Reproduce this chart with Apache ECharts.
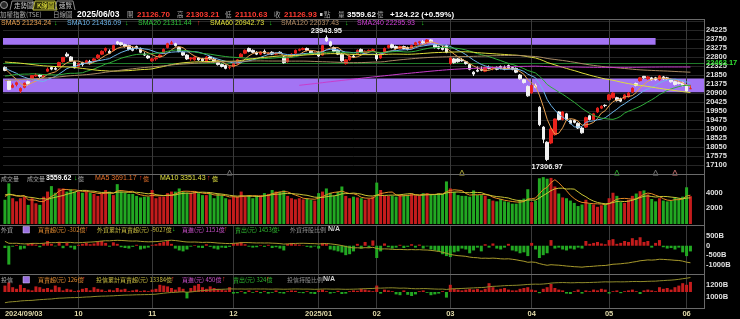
<!DOCTYPE html>
<html><head><meta charset="utf-8">
<script src="https://cdn.jsdelivr.net/npm/echarts@6/dist/echarts.min.js"></script>
<style>html,body{margin:0;padding:0;background:#000;}#c{width:740px;height:319px;}</style>
</head><body><div id="c"></div>
<script>
// ---------------- DATA ----------------
const tradingDays = {
 '2024/09': [3,4,5,6,9,10,11,12,13,16,18,19,20,23,24,25,26,27,30],
 '2024/10': [1,4,7,8,9,11,14,15,16,17,18,21,22,23,24,25,28,29,30],
 '2024/11': [1,4,5,6,7,8,11,12,13,14,15,18,19,20,21,22,25,26,27,28,29],
 '2024/12': [2,3,4,5,6,9,10,11,12,13,16,17,18,19,20,23,24,25,26,27,30,31],
 '2025/01': [2,3,6,7,8,9,10,13,14,15,16,17,20,21,22],
 '2025/02': [3,4,5,6,7,10,11,12,13,14,17,18,19,20,21,24,25,26,27],
 '2025/03': [3,4,5,6,7,10,11,12,13,14,17,18,19,20,21,24,25,26,27,28,31],
 '2025/04': [1,2,7,8,9,10,11,14,15,16,17,18,21,22,23,24,25,28,29,30],
 '2025/05': [2,5,6,7,8,9,12,13,14,15,16,19,20,21,22,23,26,27,28,29],
 '2025/06': [2,3]
};
const monthTicks = [['2024/09/03','2024/09/03'],['2024/10/01','10'],['2024/11/01','11'],['2024/12/02','12'],['2025/01/02','2025/01'],['2025/02/03','02'],['2025/03/03','03'],['2025/04/01','04'],['2025/05/02','05'],['2025/06/02','06']];

const open = [
22250,21550,21200,21350,21000,21200,21500,21600,21800,21850,21750,22050,22250,22200,22300,22550,22950,22800,22550,
22300,22500,22500,22550,22600,22750,22950,23150,23100,23150,23600,23550,23450,23400,23250,23350,23250,22950,22850,
22600,22700,22800,23000,23300,23500,23500,23300,23050,22900,22700,22650,22750,22700,22550,22800,22700,22500,22400,22350,22250,
22300,22450,22800,23000,23250,23150,23050,22950,23100,22950,23050,22950,23050,22800,22550,22800,23000,23150,23200,23250,23100,23000,
23050,22900,23820,23600,23300,23150,22950,22450,22650,22850,22950,23200,23000,23100,23150,
22950,22750,23000,23300,23450,23350,23250,23350,23300,23250,23450,23550,23600,23550,23700,23450,23350,23300,23400,
22450,22700,22700,22650,22550,22400,22000,22100,22150,22050,22250,22200,22250,22300,22250,22350,22250,22200,21850,21600,21250,
20900,21300,20150,19100,18300,18260,18700,19900,19500,19800,19450,19450,19300,19050,19100,19700,19500,19900,20100,20250,
20550,20650,20650,20600,20600,20700,20950,21400,21550,21780,21650,21700,21700,21600,21750,21700,21600,21500,21450,21450,
21300,21126.70];
const high = [
22300,21600,21400,21500,21200,21450,21550,21850,21950,21900,21900,22250,22300,22300,22550,22800,23050,22850,22600,
22500,22550,22650,22650,22750,22950,23150,23300,23200,23450,23650,23600,23500,23450,23350,23400,23300,23050,22900,
22750,22800,22950,23250,23550,23650,23550,23350,23100,22950,22800,22850,22800,22750,22850,22850,22750,22550,22450,22400,22350,
22500,22700,23000,23200,23300,23200,23100,23100,23200,23050,23100,23050,23100,22850,22800,23000,23200,23250,23300,23300,23150,23100,
23100,23450,23943.95,23650,23350,23200,23000,22700,22900,22950,23200,23250,23150,23200,23250,
23000,23000,23300,23450,23500,23400,23400,23400,23350,23450,23600,23650,23700,23750,23750,23500,23400,23400,23450,
22850,22750,22750,22750,22600,22450,22050,22300,22300,22300,22350,22300,22300,22350,22350,22400,22300,22250,21900,21650,21300,
21350,21400,20200,19150,18350,19100,19550,19950,19950,19850,19500,19500,19350,19100,19650,19750,19850,20150,20250,20300,
20850,20950,20700,20650,20850,20950,21200,21450,21750,21800,21800,21750,21750,21850,21800,21750,21650,21550,21550,21500,
21350,21303.21];
const low = [
22050,21050,21150,21250,20900,21150,21300,21580,21750,21700,21700,22000,22100,22100,22250,22500,22800,22550,22200,
22250,22300,22450,22400,22550,22700,22900,23050,22950,23100,23450,23400,23300,23150,23100,23200,23000,22850,22700,
22550,22600,22750,22950,23250,23450,23350,23050,22850,22650,22600,22600,22600,22550,22500,22650,22500,22350,22250,22150,22150,
22250,22400,22750,22950,23050,23000,22900,22900,22950,22900,22900,22900,22950,22450,22500,22750,22950,23100,23150,23100,22950,22950,
22800,22880,23600,23350,23050,22900,22550,22400,22600,22750,22900,23000,22950,23050,23100,
22600,22700,22980,23250,23250,23200,23200,23200,23150,23200,23400,23450,23500,23500,23550,23250,23200,23150,23000,
22400,22450,22500,22550,22400,22100,21800,22000,22050,22000,22150,22100,22100,22150,22100,22150,22100,21950,21600,21400,20700,
20850,21150,19150,18250,17306.97,18200,18650,19450,19450,19450,19250,19300,19000,18750,19050,19450,19450,19850,20050,20150,
20500,20600,20450,20420,20550,20650,20900,21250,21500,21650,21600,21550,21550,21550,21600,21600,21450,21300,21350,21250,
20950,21110.63];
const close = [
22090,21090,21300,21440,21140,21420,21390,21820,21850,21780,21810,22160,22160,22150,22510,22780,22850,22590,22225,
22470,22400,22600,22500,22700,22900,23100,23250,23000,23400,23500,23450,23350,23200,23150,23250,23050,22900,22750,
22700,22750,22900,23200,23500,23550,23400,23100,22900,22700,22750,22800,22650,22600,22800,22700,22550,22400,22300,22200,22260,
22450,22650,22950,23150,23100,23050,22950,23050,23000,23000,22950,23000,23000,22500,22750,22950,23150,23200,23250,23150,23000,23030,
22850,23400,23650,23400,23100,22950,22600,22650,22850,22800,23150,23050,23100,23150,23200,
22700,22950,23250,23400,23300,23250,23350,23250,23200,23400,23550,23600,23550,23700,23600,23300,23250,23200,23050,
22750,22500,22550,22600,22450,22150,21900,22050,22100,22250,22200,22250,22150,22200,22150,22200,22150,22000,21650,21450,20750,
21300,21200,19230,18460,17390,19000,19530,19500,19900,19500,19300,19350,19050,18800,19600,19500,19800,20100,20200,20235,
20800,20900,20500,20470,20800,20900,21150,21300,21700,21700,21750,21600,21600,21800,21650,21650,21490,21350,21400,21290,
21002.71,21126.93];
// closes loaded before the first visible day (Jan 2024 - Sep 2 2024), used by the moving averages
const priorCloses = [
17850,17600,17500,17480,17400,17500,17520,17550,17500,17450,17300,17250,17300,17350,17550,17650,17800,17700,17750,17800,17900,18000,
18050,18100,18150,18100,18600,18650,18700,18800,18850,18900,18880,18900,18950,18950,18966,
19050,19200,19400,19650,19800,19950,19900,19700,19900,20000,19900,19850,20150,20300,20250,20150,20100,20200,20150,20250,20300,
20200,20300,20500,20700,20800,20750,20600,20300,19950,19700,19550,19500,19800,20000,20200,20300,20150,20400,20500,20400,
20300,20500,20600,20600,20700,20800,20700,20800,20900,21000,21100,21200,21300,21250,21200,21300,21500,21550,21450,21300,21200,21170,
21500,21600,21800,21900,22200,22100,22200,22400,22700,22900,23200,23400,23200,23000,22900,22850,23000,23100,23030,
23100,23300,23500,23800,24050,23900,24100,24200,24390,23950,23900,24050,23400,23300,22900,22800,22900,22200,22150,22050,22200,
22100,21600,19830,20500,20750,20500,20900,21000,21200,21400,21500,22000,22100,22200,22300,22200,22300,22400,22200,22100,22300,22270,
22200];
const volume = [
3100,5200,3300,2900,3300,3500,2450,3300,2650,2450,3500,4150,4850,4000,4550,4550,4150,4450,4150,
4150,4000,4150,4000,3850,3600,3850,4350,4150,3700,5100,4150,4000,3850,3850,3600,3400,3500,3500,
4350,3300,3500,3500,3950,4150,4150,4550,4150,4000,4000,4150,3950,3700,3700,3950,3300,3850,3700,3300,3150,
3500,3500,4150,3500,3600,3300,3600,3700,3950,3850,4350,4150,4150,4300,3600,3300,3150,3300,3150,3300,3100,3000,
3950,4150,4550,4000,3600,4150,4800,3600,3300,3500,3400,3300,3100,3200,3500,
5300,4350,3600,3600,3600,3500,3700,3700,3750,3900,3700,3600,3950,3950,3750,3700,3950,3850,5450,
4550,4100,3700,3600,3600,3500,4300,3700,3700,3600,3200,3000,2900,3200,2900,2800,2600,2600,3100,3250,4450,
2800,3000,5850,6000,5800,5900,4800,3900,3400,3300,3000,2700,2300,2500,3100,2600,2500,2200,2400,2600,
3300,4000,3600,2800,2700,3100,3600,3900,4200,4300,3800,3200,2900,3300,3000,2900,2960,3396,3300,3500,
4700,3559.62];
const priorVolumes = [4200,3900,4100,3800,3600,3900,3700,3500,3400];
// foreign investors daily net buy/sell (億)
const foreignNet = [
-120,-1000,-50,40,-200,-150,100,150,60,-80,120,250,100,-30,200,-130,150,-100,-200,
50,100,150,80,120,200,250,150,-50,180,100,-80,-120,-150,-60,50,-200,-150,-100,
50,80,150,200,250,100,-150,-250,-300,-200,-50,30,-100,-120,80,-60,-150,-200,-100,-120,-60,
120,150,200,80,-50,-100,-80,30,-60,50,-120,-80,-150,-250,100,150,80,60,20,-60,-100,-40,
-150,150,100,-200,-250,-300,-360,-500,-450,-300,100,-150,200,-100,280,
-650,-300,120,-80,-150,-100,50,-120,-60,80,-100,60,-150,-40,-200,-250,-300,-450,-550,
-600,-350,-300,-150,-200,-400,-250,-100,-300,80,-100,120,-150,-200,-100,100,-250,-300,-400,-350,-550,
150,-200,-650,-500,-400,300,-150,-100,-200,-250,-150,-200,-100,-150,250,100,150,200,120,80,
300,350,100,150,250,200,400,300,450,200,250,-100,150,300,-80,-150,-120,-200,-100,-350,
-550,-302];
const foreignCumEnd = -902.7;   // B (10億) on last day
// investment trust daily net buy/sell (億)
const trustNet = [
80,120,60,40,90,50,30,20,70,60,40,50,30,80,60,20,40,30,10,
20,40,50,20,60,40,30,10,30,20,50,30,40,10,20,30,10,20,10,
30,40,90,80,70,50,30,60,40,-80,50,80,100,60,40,70,50,40,30,20,60,
-20,-15,10,-20,20,-10,15,-15,10,-20,-10,20,-15,-20,10,20,15,-10,-15,10,-20,-25,
20,30,10,-20,-10,15,-25,-20,10,20,15,40,30,20,10,
80,-20,30,20,10,-30,-40,20,-35,-50,-30,10,20,-10,-40,-30,-20,10,-70,
90,40,30,20,30,40,30,40,20,40,110,60,30,40,50,30,20,20,40,50,60,
30,20,-15,40,60,100,50,30,20,-20,-25,10,30,-20,20,10,30,20,40,30,
-20,10,20,-15,10,20,30,10,-25,20,30,20,10,60,40,50,30,60,80,110,
90,126];
const trustCumEnd = 1338.4;     // B on last day
const zoneUpper = [23440, 23800];
const zoneUpperEnd = '2025/05/20';
const zoneLower = [20940, 21660];
const refLevel = 22463.17;
const eventMarks = [['2024/11/29','#8a8a8a'],['2025/03/06','#c8c040'],['2025/05/06','#30c030'],['2025/05/20','#8a8a8a'],['2025/05/27','#e08080']];
const priceTicks = {min: 16625, max: 24805, step: 475, firstLabel: 17100, lastLabel: 24225};

// ---------------- BUILD ----------------
const categories = [];
Object.keys(tradingDays).forEach(m => tradingDays[m].forEach(d => categories.push(m + '/' + String(d).padStart(2,'0'))));
const xCats = categories.concat([' ', '  ', '   ']);
const labelMap = {}; monthTicks.forEach(t => labelMap[t[0]] = t[1]);
const labelIdx = new Set(monthTicks.map(t => categories.indexOf(t[0])));

const allCloses = priorCloses.concat(close);
function sma(n) {
  return close.map((_, i) => {
    const e = priorCloses.length + i; if (e - n + 1 < 0) return null;
    let s = 0; for (let k = e - n + 1; k <= e; k++) s += allCloses[k];
    return +(s / n).toFixed(2);
  });
}
const allVol = priorVolumes.concat(volume);
function vma(n) {
  return volume.map((_, i) => {
    const e = priorVolumes.length + i; if (e - n + 1 < 0) return null;
    let s = 0; for (let k = e - n + 1; k <= e; k++) s += allVol[k];
    return +(s / n).toFixed(2);
  });
}
function cumFromEnd(net, endVal) {
  const r = new Array(net.length); r[net.length - 1] = endVal;
  for (let i = net.length - 2; i >= 0; i--) r[i] = +(r[i + 1] - net[i + 1] / 10).toFixed(2);
  return r;
}
const foreignCum = cumFromEnd(foreignNet, foreignCumEnd);
const trustCum = cumFromEnd(trustNet, trustCumEnd);

const upC = '#e8221c', dnC = '#f2f2f2';
const barUp = '#c41c1c', barDn = '#22a822';
const F_CJK = "'Noto Sans CJK TC','Noto Sans CJK JP',sans-serif";
const F_NUM = "'Liberation Sans','DejaVu Sans',sans-serif";

const monthLines = {
  silent: true, symbol: ['none','none'], z: 1, animation: false,
  label: {show: false}, lineStyle: {color: '#3a3a3a', width: 1, type: 'solid'},
  data: monthTicks.slice(1).map(t => ({xAxis: t[0]}))
};
const nulls = close.map(() => null);

const grids = [
  {left: 3, right: 36, top: 19, height: 155},
  {left: 3, right: 36, top: 174, height: 50},
  {left: 3, right: 36, top: 225, height: 49},
  {left: 3, right: 36, top: 274, height: 34}
].map(g => Object.assign(g, {outerBoundsMode: 'none', containLabel: false}));

const xAxes = [0,1,2,3].map(i => ({
  type: 'category', gridIndex: i, data: xCats, boundaryGap: true,
  axisLine: {show: false}, axisTick: {show: false}, splitLine: {show: false},
  axisLabel: i === 3 ? {
    show: true, interval: (idx) => labelIdx.has(idx), formatter: v => labelMap[v] || '',
    color: '#e0d8a8', fontSize: 7.5, fontWeight: 'bold', fontFamily: F_NUM, margin: 2,
    alignMinLabel: 'left'
  } : {show: false}
}));

const axLbl = (fmt) => ({color: '#e0e0e0', fontSize: 7.5, fontWeight: 'bold', fontFamily: F_NUM, margin: 2, formatter: fmt, showMinLabel: false, showMaxLabel: false});
const yAxes = [
  {type: 'value', gridIndex: 0, position: 'right', min: priceTicks.min, max: priceTicks.max, interval: priceTicks.step,
   axisLine: {show: false}, axisTick: {show: false}, splitLine: {show: true, lineStyle: {color: '#262626', width: 1}},
   axisLabel: axLbl(v => (v >= priceTicks.firstLabel && v <= priceTicks.lastLabel) ? String(v) : '')},
  {type: 'value', gridIndex: 1, position: 'right', min: 0, max: 6400, interval: 2000,
   axisLine: {show: false}, axisTick: {show: false}, splitLine: {show: false},
   axisLabel: axLbl(v => (v === 2000 || v === 4000) ? String(v) : '')},
  {type: 'value', gridIndex: 2, position: 'right', min: -1500, max: 1100, interval: 500,
   axisLine: {show: false}, axisTick: {show: false}, splitLine: {show: false},
   axisLabel: axLbl(v => v === 500 ? '500B' : v === 0 ? '0' : v === -500 ? '-500B' : v === -1000 ? '-1000B' : '')},
  {type: 'value', gridIndex: 3, position: 'right', min: 800, max: 1400, interval: 200,
   axisLine: {show: false}, axisTick: {show: false}, splitLine: {show: false},
   axisLabel: axLbl(v => v === 1200 ? '1200B' : v === 1000 ? '1000B' : '')},
  {type: 'value', gridIndex: 3, position: 'right', min: -200, max: 225, show: false,
   axisLine: {show: false}, axisTick: {show: false}, splitLine: {show: false}, axisLabel: {show: false}}
];

const series = [];
series.push({type: 'line', xAxisIndex: 0, yAxisIndex: 0, data: nulls, silent: true, z: 1,
  markArea: {silent: true, z: 1, itemStyle: {color: '#a374f4'},
    data: [[{yAxis: zoneUpper[1]}, {xAxis: zoneUpperEnd, yAxis: zoneUpper[0]}],
           [{yAxis: zoneLower[1]}, {yAxis: zoneLower[0]}]]},
  markLine: monthLines});
[1,2,3].forEach(g => series.push({type: 'line', xAxisIndex: g, yAxisIndex: g, data: nulls, silent: true, z: 1, markLine: monthLines}));

series.push({type: 'candlestick', xAxisIndex: 0, yAxisIndex: 0, z: 3, barWidth: 3,
  data: close.map((c, i) => [open[i], c, low[i], high[i]]),
  itemStyle: {color: upC, color0: dnC, borderColor: upC, borderColor0: dnC, borderWidth: 1},
  markLine: {silent: true, symbol: ['none','none'], z: 2, animation: false,
    lineStyle: {color: '#1f7a2a', width: 1, type: 'solid'},
    label: {show: true, position: 'end', distance: 2, formatter: String(refLevel), color: '#33e033', fontSize: 7.5, fontWeight: 'bold', fontFamily: F_NUM},
    data: [{yAxis: refLevel}]},
  markPoint: {silent: true, symbol: 'rect', symbolSize: 1, itemStyle: {color: 'rgba(0,0,0,0)'}, animation: false,
    label: {show: true, color: '#f0f0f0', fontSize: 7.5, fontWeight: 'bold', fontFamily: F_NUM, formatter: p => Number(p.value).toFixed(2)},
    data: [{type: 'max', valueDim: 'highest', label: {position: 'top', distance: 0}},
           {type: 'min', valueDim: 'lowest', label: {position: 'bottom', distance: 1}}]}
});

const maDefs = [[5,'#e8a050'],[10,'#6cb4ea'],[20,'#2fae3a'],[60,'#dede3c'],[120,'#a88a64'],[240,'#c83ccc']];
maDefs.forEach(([n, col]) => series.push({type: 'line', xAxisIndex: 0, yAxisIndex: 0, data: sma(n), z: 4,
  showSymbol: false, symbol: 'none', silent: true, lineStyle: {width: 1, color: col}}));

series.push({type: 'scatter', xAxisIndex: 0, yAxisIndex: 0, z: 5, silent: true, symbol: 'triangle', symbolSize: [5, 5],
  data: eventMarks.map(e => ({value: [e[0], 16700], itemStyle: {color: 'rgba(0,0,0,0)', borderColor: e[1], borderWidth: 1}}))});

series.push({type: 'bar', xAxisIndex: 1, yAxisIndex: 1, barWidth: 3, z: 2,
  data: volume.map((v, i) => ({value: v, itemStyle: {color: close[i] >= open[i] ? barUp : barDn}}))});
series.push({type: 'line', xAxisIndex: 1, yAxisIndex: 1, data: vma(5), z: 3, showSymbol: false, symbol: 'none', lineStyle: {width: 1, color: '#e68a24'}});
series.push({type: 'line', xAxisIndex: 1, yAxisIndex: 1, data: vma(10), z: 3, showSymbol: false, symbol: 'none', lineStyle: {width: 1, color: '#c9c434'}});
series.push({type: 'bar', xAxisIndex: 2, yAxisIndex: 2, barWidth: 3, z: 2,
  data: foreignNet.map(v => ({value: v, itemStyle: {color: v >= 0 ? barUp : barDn}}))});
series.push({type: 'line', xAxisIndex: 2, yAxisIndex: 2, data: foreignCum, z: 3, showSymbol: false, symbol: 'none', lineStyle: {width: 1, color: '#a89a2c'}});
series.push({type: 'bar', xAxisIndex: 3, yAxisIndex: 4, barWidth: 3, z: 2,
  data: trustNet.map(v => ({value: v, itemStyle: {color: v >= 0 ? barUp : barDn}}))});
series.push({type: 'line', xAxisIndex: 3, yAxisIndex: 3, data: trustCum, z: 3, showSymbol: false, symbol: 'none', lineStyle: {width: 1, color: '#8e8a2a'}});

function T(x, y, s, fill, size, bold, fam) {
  return {type: 'text', x: x, y: y, z: 100, silent: true,
    style: {text: s, fill: fill, font: (bold ? 'bold ' : '') + size + 'px ' + (fam || F_CJK), verticalAlign: 'middle', textVerticalAlign: 'middle'}};
}
function L(x1, y1, x2, y2, c, w) {
  return {type: 'line', z: 99, silent: true, shape: {x1: x1, y1: y1, x2: x2, y2: y2}, style: {stroke: c, lineWidth: w || 1}};
}
const G = '#a8a8a8', RED = '#ff3a30', GRN = '#22d022';
const graphics = [
  {type: 'circle', z: 100, shape: {cx: 4, cy: 5, r: 3.5}, style: {fill: '#2a2a2a', stroke: '#9a9a9a', lineWidth: 1}},
  {type: 'polyline', z: 100, shape: {points: [[10,10],[12,1],[33,1],[35,10]]}, style: {stroke: '#8a8a8a', fill: 'none', lineWidth: 1}},
  {type: 'polygon', z: 100, shape: {points: [[33,10],[35,1],[55,1],[57,10]]}, style: {stroke: '#b8b840', fill: '#2e2e08', lineWidth: 1}},
  {type: 'polyline', z: 100, shape: {points: [[55,10],[57,1],[73,1],[75,10]]}, style: {stroke: '#8a8a8a', fill: 'none', lineWidth: 1}},
  T(14, 5.5, '走勢圖', '#c8c8c8', 6.5), T(37, 5.5, 'K線圖', '#f0f040', 6.5), T(59, 5.5, '速覽', '#c8c8c8', 6.5),
  T(0, 14.5, '加權指數(TSE)', G, 6.5), T(53, 14.5, '日線圖', G, 6.5),
  T(77, 14.5, '2025/06/03', '#ffffff', 8.5, true, F_NUM),
  T(127, 14.5, '開', G, 6.5), T(137, 14.5, '21126.70', RED, 8, true, F_NUM),
  T(177, 14.5, '高', G, 6.5), T(186, 14.5, '21303.21', RED, 8, true, F_NUM),
  T(225, 14.5, '低', G, 6.5), T(235, 14.5, '21110.63', RED, 8, true, F_NUM),
  T(274, 14.5, '收', G, 6.5), T(284, 14.5, '21126.93', RED, 8, true, F_NUM),
  {type: 'rect', z: 100, shape: {x: 320, y: 13, width: 2.5, height: 3}, style: {fill: '#d0d0d0'}},
  T(324, 14.5, '點', G, 6.5), T(338, 14.5, '量', G, 6.5),
  T(347, 14.5, '3559.62', '#ffffff', 8, true, F_NUM), T(377, 14.5, '億', G, 6.5),
  T(390, 14.5, '+124.22 (+0.59%)', '#ffffff', 8, true, F_NUM),
  T(1, 23.5, 'SMA5 21234.24', '#e8a050', 7, false, F_NUM), T(54, 23.5, '↓', GRN, 7, true, F_NUM),
  T(67, 23.5, 'SMA10 21436.09', '#6cb4ea', 7, false, F_NUM), T(125, 23.5, '↓', GRN, 7, true, F_NUM),
  T(138, 23.5, 'SMA20 21311.44', '#2fc43a', 7, false, F_NUM), T(197, 23.5, '↑', RED, 7, true, F_NUM),
  T(210, 23.5, 'SMA60 20942.73', '#e6e63c', 7, false, F_NUM), T(269, 23.5, '↓', GRN, 7, true, F_NUM),
  T(281, 23.5, 'SMA120 22037.43', '#b89068', 7, false, F_NUM), T(345, 23.5, '↓', GRN, 7, true, F_NUM),
  T(357, 23.5, 'SMA240 22295.93', '#d040d8', 7, false, F_NUM), T(421, 23.5, '↓', GRN, 7, true, F_NUM),
  T(1, 178.5, '成交量', G, 6), T(27, 178.5, '成交量', G, 6), T(46, 178.5, '3559.62', '#ffffff', 7, true, F_NUM),
  T(74, 178.5, '↓', GRN, 7, true, F_NUM), T(78, 178.5, '億', G, 6),
  T(95, 178.5, 'MA5 3691.17', '#e6702a', 7, false, F_NUM), T(139, 178.5, '↑', RED, 7, true, F_NUM), T(143, 178.5, '億', '#e6702a', 6),
  T(160, 178.5, 'MA10 3351.43', '#e0e040', 7, false, F_NUM), T(207, 178.5, '↑', RED, 7, true, F_NUM), T(212, 178.5, '億', '#e0e040', 6),
  T(1, 229.5, '外資', G, 6),
  {type: 'rect', z: 100, shape: {x: 23, y: 226.5, width: 6.5, height: 6.5}, style: {fill: '#9a70e0', stroke: '#d8c8ff', lineWidth: 0.5}},
  T(38, 229.5, '買賣超(元) -302億', '#e08a30', 6), T(85, 229.5, '↑', RED, 7, true, F_NUM),
  T(97, 229.5, '外資累計買賣超(元) -9027億', '#c8bc40', 6), T(172, 229.5, '↓', GRN, 7, true, F_NUM),
  T(182, 229.5, '買進(元) 1151億', '#c850c8', 6), T(224, 229.5, '↑', RED, 7, true, F_NUM),
  T(235, 229.5, '賣出(元) 1453億', '#30b830', 6), T(277, 229.5, '↓', GRN, 7, true, F_NUM),
  T(290, 229.5, '外資持股比例', '#909090', 6), T(328, 229.5, 'N/A', '#d0d0d0', 7, true, F_NUM),
  T(1, 279.5, '投信', G, 6),
  {type: 'rect', z: 100, shape: {x: 23, y: 276.5, width: 6.5, height: 6.5}, style: {fill: '#9a70e0', stroke: '#d8c8ff', lineWidth: 0.5}},
  T(38, 279.5, '買賣超(元) 126億', '#e08a30', 6), T(82, 279.5, '↑', RED, 7, true, F_NUM),
  T(96, 279.5, '投信累計買賣超(元) 13384億', '#c8bc40', 6), T(171, 279.5, '↑', RED, 7, true, F_NUM),
  T(182, 279.5, '買進(元) 450億', '#c850c8', 6), T(222, 279.5, '↑', RED, 7, true, F_NUM),
  T(233, 279.5, '賣出(元) 324億', '#30b830', 6), T(266, 279.5, '↑', RED, 7, true, F_NUM),
  T(287, 279.5, '投信持股比例', '#909090', 6), T(323, 279.5, 'N/A', '#d0d0d0', 7, true, F_NUM),
  L(0, 19.5, 704, 19.5, '#6a6a6a'), L(0, 174.5, 704, 174.5, '#6a6a6a'), L(0, 225.5, 704, 225.5, '#6a6a6a'),
  L(0, 274.5, 704, 274.5, '#6a6a6a'), L(0, 308.5, 704, 308.5, '#6a6a6a'), L(704.5, 19, 704.5, 309, '#6a6a6a')
];

const chart = echarts.init(document.getElementById('c'), null, {width: 740, height: 319, renderer: 'canvas'});
chart.setOption({
  backgroundColor: '#000', animation: false,
  grid: grids, xAxis: xAxes, yAxis: yAxes, series: series, graphic: graphics
});
</script></body></html>
